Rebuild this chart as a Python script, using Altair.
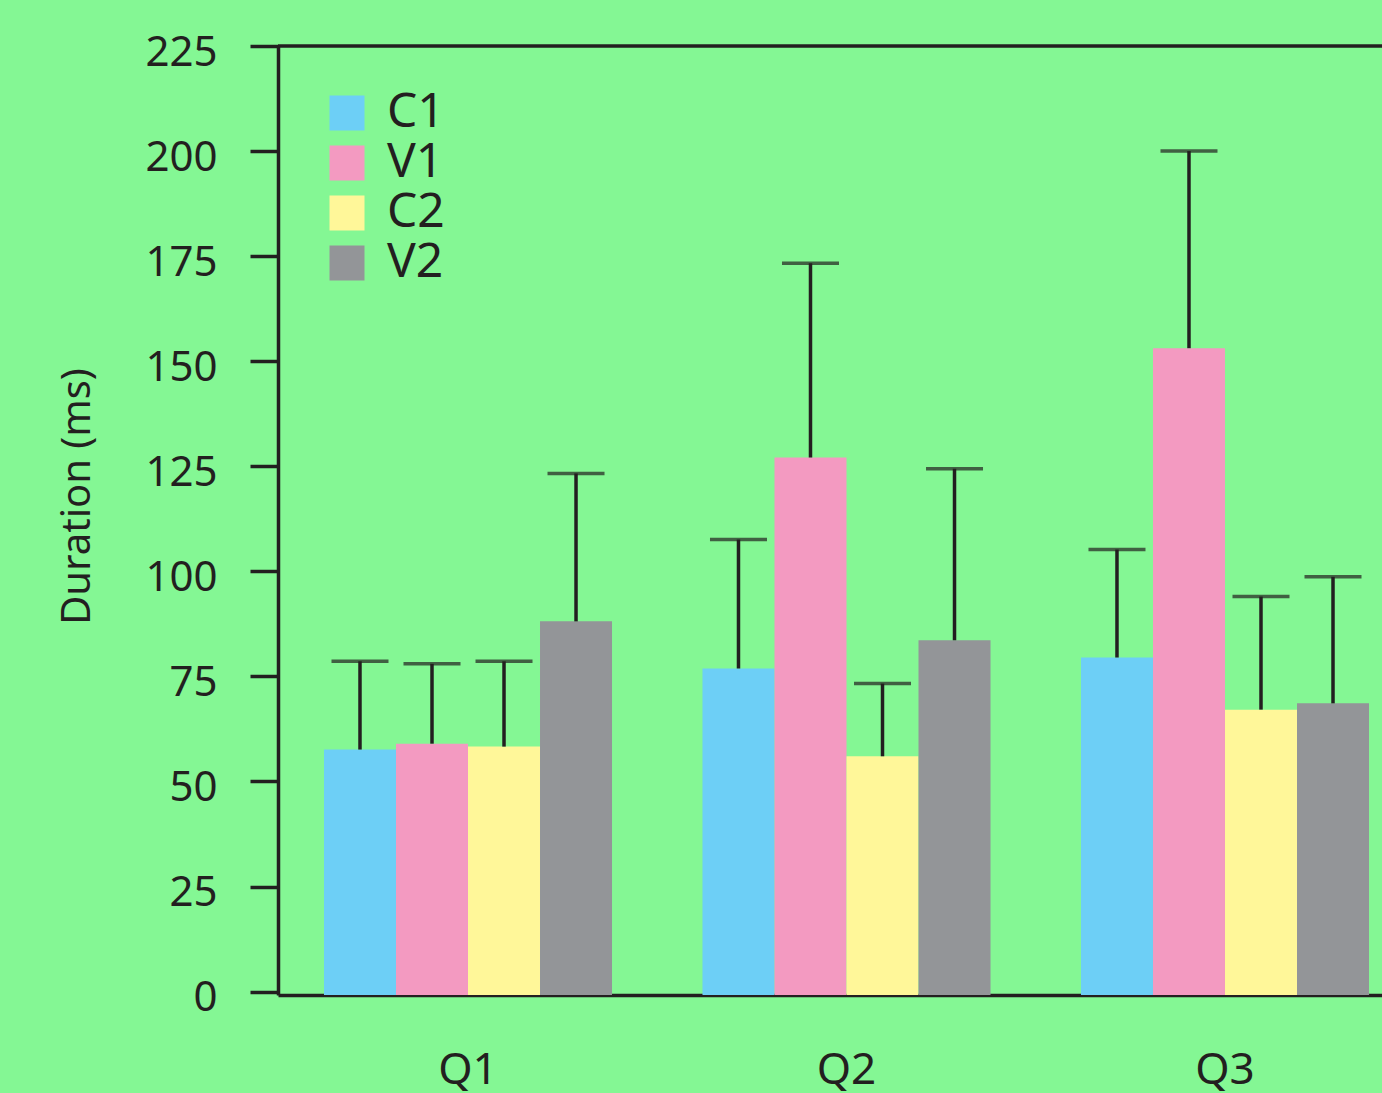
import altair as alt
import pandas as pd

# Categories and series
quarters = ["Q1", "Q2", "Q3"]
series = ["C1", "V1", "C2", "V2"]
colors = ["#6DCFF6", "#F39AC1", "#FFF799", "#939598"]

# Mean duration (ms) per series, one value per quarter
mean_c1 = [57.6, 76.9, 79.5]
mean_v1 = [59.0, 127.1, 153.1]
mean_c2 = [58.3, 56.0, 67.1]
mean_v2 = [88.1, 83.6, 68.6]

# Upper error (ms) added on top of each mean
err_c1 = [21.0, 30.7, 25.7]
err_v1 = [19.0, 46.2, 46.9]
err_c2 = [20.3, 17.3, 26.9]
err_v2 = [35.2, 40.8, 30.1]

# y axis ticks and scale domain (the floor sits just under 0 so the
# x axis line runs slightly below the zero tick)
y_ticks = [0, 25, 50, 75, 100, 125, 150, 175, 200, 225]
y_floor = -0.8
y_top = 225

means = {"C1": mean_c1, "V1": mean_v1, "C2": mean_c2, "V2": mean_v2}
errs = {"C1": err_c1, "V1": err_v1, "C2": err_c2, "V2": err_v2}

rows = []
for s in series:
    for i, q in enumerate(quarters):
        m = means[s][i]
        rows.append({"quarter": q, "series": s, "mean": m, "upper": m + errs[s][i]})
df = pd.DataFrame(rows)

INK = "#231F20"
FONT = "Noto Sans"
PLOT_W = 1104
PLOT_H = 949

x_enc = alt.X(
    "quarter:N",
    sort=quarters,
    scale=alt.Scale(range=[0, 1137], paddingInner=0.239, paddingOuter=0.1215),
    axis=alt.Axis(
        title=None, labelAngle=0, ticks=False, labelPadding=53,
        labelFontSize=44, labelColor=INK, labelFont=FONT,
        domainColor=INK, domainWidth=3.5,
    ),
)
xoff_enc = alt.XOffset(
    "series:N", sort=series, scale=alt.Scale(paddingInner=0, paddingOuter=0)
)
y_scale = alt.Scale(domain=[y_floor, y_top], nice=False, zero=False)

base = alt.Chart(df).encode(x=x_enc, xOffset=xoff_enc)

bars = base.mark_bar().encode(
    y=alt.Y(
        "mean:Q",
        scale=y_scale,
        axis=alt.Axis(
            values=y_ticks, grid=False,
            tickSize=28, tickWidth=3.5, tickColor=INK,
            domainColor=INK, domainWidth=3.5,
            labelFontSize=42, labelColor=INK, labelFont=FONT,
            labelPadding=33, labelOffset=6,
            title="Duration (ms)", titleFontSize=40, titleFont=FONT,
            titleFontWeight="normal", titleColor=INK,
            titleAngle=-90, titleAlign="center", titleBaseline="middle",
            titleX=-201, titleY=450,
        ),
    ),
    y2=alt.datum(y_floor),
    color=alt.Color(
        "series:N",
        sort=series,
        scale=alt.Scale(domain=series, range=colors),
        legend=alt.Legend(
            title=None, orient="none", legendX=45, legendY=43, padding=0,
            symbolType="square", symbolSize=1225, symbolStrokeWidth=0,
            symbolOpacity=1, labelFontSize=48, labelFont=FONT, labelColor=INK,
            labelOffset=16, rowPadding=2, labelLimit=300,
        ),
    ),
)

stems = base.mark_rule(color=INK, strokeWidth=3.5).encode(
    y=alt.Y("mean:Q", scale=y_scale),
    y2="upper:Q",
)

caps = base.mark_tick(color=INK, thickness=3.5, size=57, orient="horizontal").encode(
    y=alt.Y("upper:Q", scale=y_scale),
)

top_line = alt.Chart(pd.DataFrame({"v": [y_top]})).mark_rule(
    color=INK, strokeWidth=3.5
).encode(
    y=alt.Y("v:Q", scale=y_scale),
    x=alt.value(0),
    x2=alt.value(PLOT_W),
)

chart = (
    alt.layer(bars, stems, caps, top_line)
    .properties(
        width=PLOT_W,
        height=PLOT_H,
        background="#84F794",
        padding={"left": 278, "top": 46, "right": 0, "bottom": 98},
        autosize=alt.AutoSizeParams(type="none"),
    )
    .configure_view(stroke=None)
)

chart.save("out.html", embed_options={"renderer": "svg", "actions": False})
